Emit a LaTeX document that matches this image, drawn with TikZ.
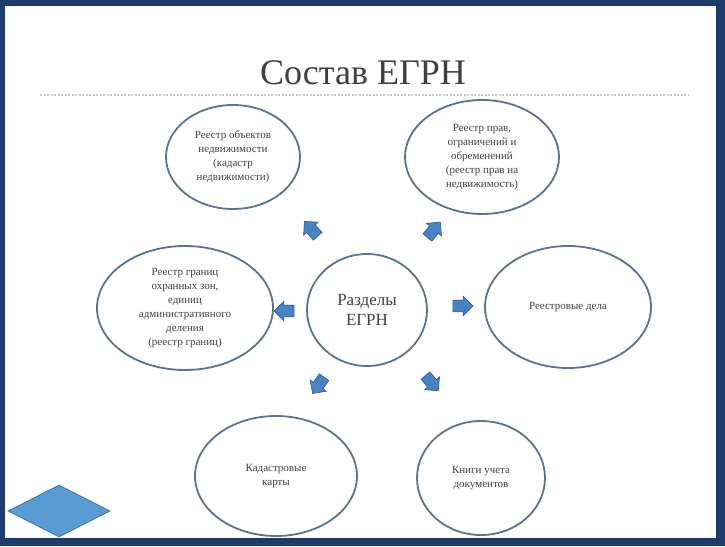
\documentclass[tikz,border=0pt]{standalone}
\usepackage{fontspec}
\setmainfont{Liberation Serif}
\usetikzlibrary{shapes.arrows,shapes.geometric}
\definecolor{navy}{HTML}{1F3B6A}
\definecolor{ringc}{HTML}{5E7388}
\definecolor{txt}{HTML}{404040}
\definecolor{arrfill}{HTML}{4A82C4}
\definecolor{arrdraw}{HTML}{2F5D94}
\definecolor{dmfill}{HTML}{5B9BD5}
\definecolor{dmdraw}{HTML}{41719C}
\tikzset{
  sect/.style={ellipse, draw=ringc, line width=1.8pt, text=txt, align=center,
    inner sep=0pt, font=\fontsize{11}{14}\selectfont},
  blockarrow/.style={single arrow, fill=arrfill, draw=arrdraw, line width=0.6pt,
    minimum height=20pt, inner xsep=0pt, inner ysep=5.5pt,
    single arrow head extend=4pt, single arrow tip angle=90}
}
\begin{document}
\begin{tikzpicture}[x=1pt,y=-1pt]
\useasboundingbox (0,0) rectangle (725,546);
% frame
\fill[navy] (0,0) rectangle (725,546);
\fill[white] (5,6) rectangle (716,538);
% title
\node[text=txt, font=\fontsize{36}{42}\selectfont] (title) at (363,73) {Состав ЕГРН};
\draw[gray!45, line width=1.2pt, dash pattern=on 2pt off 1.5pt] (40,95) -- (688,95);
% sections
\node[sect, minimum width=134pt, minimum height=104pt] (tl) at (233,157)
  {Реестр объектов\\недвижимости\\(кадастр\\недвижимости)};
\node[sect, minimum width=154pt, minimum height=114pt] (tr) at (482,157)
  {Реестр прав,\\ограничений и\\обременений\\(реестр прав на\\недвижимость)};
\node[sect, minimum width=176pt, minimum height=124pt] (l) at (185,308)
  {Реестр границ\\охранных зон,\\единиц\\административного\\деления\\(реестр границ)};
\node[sect, minimum width=120pt, minimum height=112pt,
  font=\fontsize{17}{20}\selectfont] (c) at (367,310) {Разделы\\ЕГРН};
\node[sect, minimum width=166pt, minimum height=122pt] (r) at (568,307) {Реестровые дела};
\node[sect, minimum width=162pt, minimum height=120pt] (bl) at (276,476) {Кадастровые\\карты};
\node[sect, minimum width=128pt, minimum height=114pt] (br) at (481,478) {Книги учета\\документов};
% arrows
\node[blockarrow, rotate=132] (atl) at (313,231) {};
\node[blockarrow, rotate=50] (atr) at (432,232) {};
\node[blockarrow, rotate=180] (al) at (287,311) {};
\node[blockarrow, rotate=0] (ar) at (460,306) {};
\node[blockarrow, rotate=-125] (abl) at (320,383) {};
\node[blockarrow, rotate=-50] (abr) at (430,381) {};
% diamond
\node[diamond, fill=dmfill, draw=dmdraw, line width=0.8pt, inner sep=0pt,
  minimum width=102pt, minimum height=52pt] (dm) at (59,511) {};
\end{tikzpicture}
\end{document}
